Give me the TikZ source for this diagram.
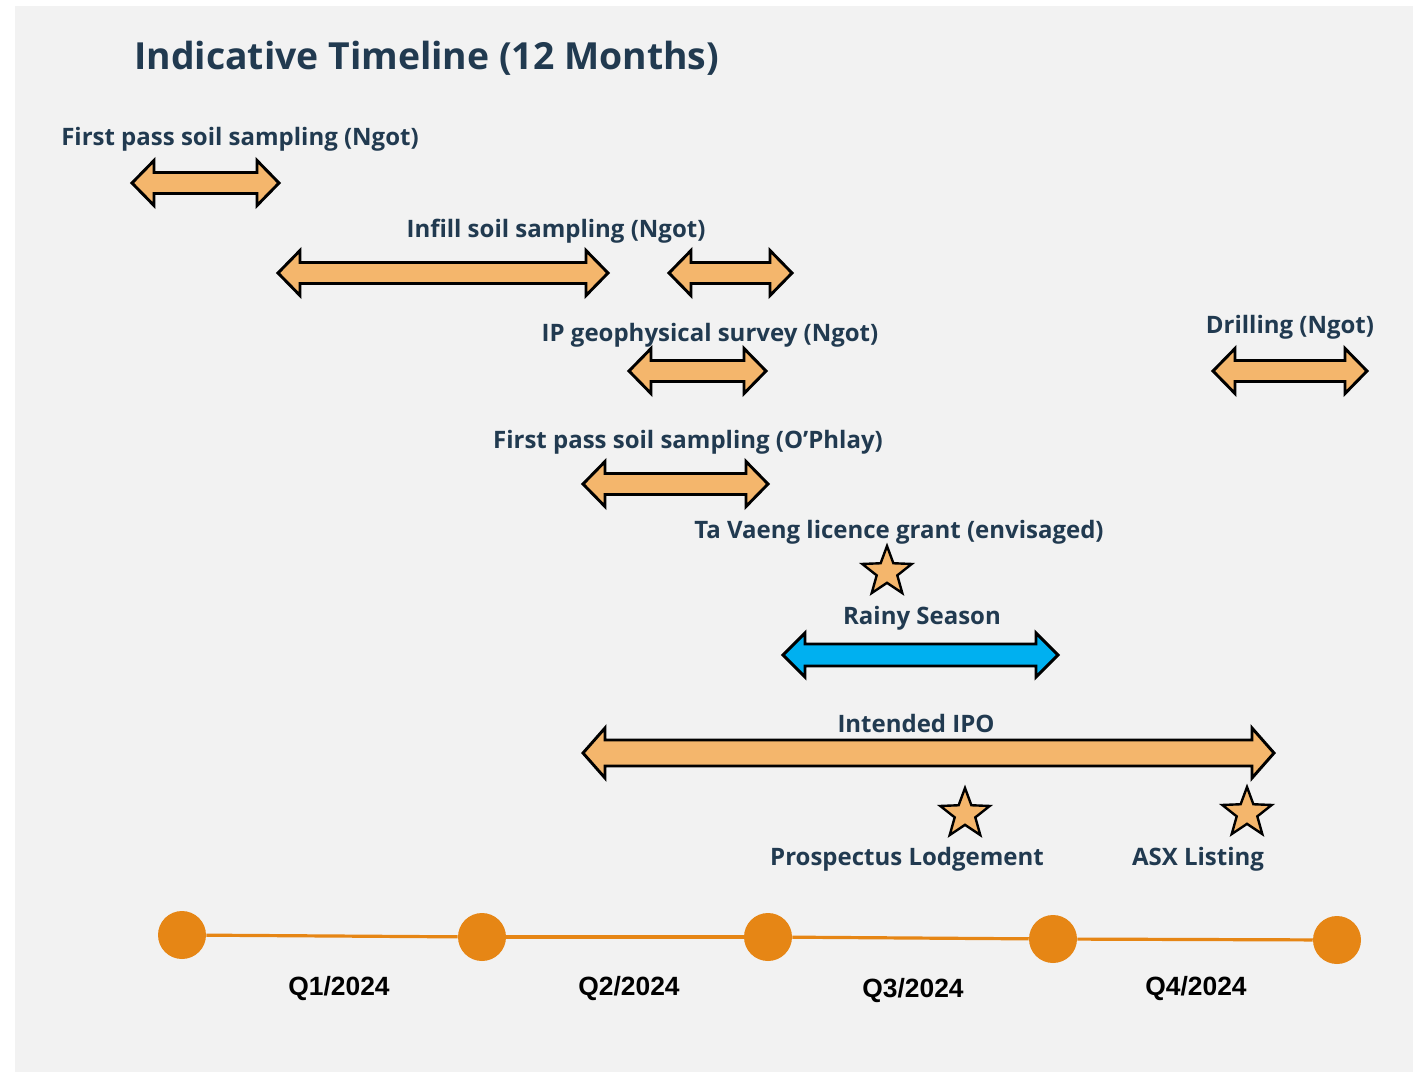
\documentclass[tikz,border=0pt]{standalone}
\usepackage{fontspec}
\setmainfont{Open Sans}
\newfontfamily\quarterfont{Liberation Sans}
\usepackage{tikz}
\usetikzlibrary{shapes.geometric}
\definecolor{Ink}{HTML}{213A50}
\definecolor{Paper}{HTML}{F2F2F2}
\definecolor{Peach}{HTML}{F4B66C}
\definecolor{Sky}{HTML}{00B0F0}
\definecolor{Pumpkin}{HTML}{E68615}

% double-headed span bar: style, x from, x to, y, head half height, body half height
\newcommand{\spanarrow}[6]{%
  \draw[#1] (#2,#4) -- ++(22,-#5) -- ++(0,#5-#6) -- (#3-22,#4-#6) -- ++(0,#6-#5)
    -- (#3,#4) -- ++(-22,#5) -- ++(0,#6-#5) -- (#2+22,#4+#6) -- ++(0,#5-#6) -- cycle;}

\begin{document}
\begin{tikzpicture}[
  x=0.75pt, y=-0.75pt,
  task/.style={font=\fontsize{18}{20}\selectfont\bfseries, text=Ink, inner sep=0pt, yshift=-1.5pt},
  heading/.style={font=\fontsize{28}{32}\selectfont\bfseries, text=Ink, inner sep=0pt, anchor=west},
  quarter/.style={font=\quarterfont\fontsize{19.8}{22}\selectfont\bfseries, text=black, inner sep=0pt, yshift=-1.5pt},
  bar/.style={draw=black, line width=2.2pt, fill=Peach, line join=miter},
  rain/.style={bar, fill=Sky},
  milestone/.style={star, star points=5, star point ratio=2.4, minimum size=39pt, inner sep=0pt, draw=black, line width=1.8pt, fill=Peach},
  dot/.style={circle, fill=Pumpkin, minimum size=36pt, inner sep=0pt},
  track/.style={draw=Pumpkin, line width=2.4pt}
]
\useasboundingbox (0,0) rectangle (1421,1072);
\fill[Paper] (15,6) rectangle (1413,1072);

\node[heading] (title) at (134,58) {Indicative Timeline (12 Months)};

% activities
\node[task] (soilngot) at (240,137) {First pass soil sampling (Ngot)};
\spanarrow{bar}{132}{279}{183}{22.5}{10.5}

\node[task] (infill) at (556,229) {Infill soil sampling (Ngot)};
\spanarrow{bar}{278}{608}{273}{22.5}{10.5}
\spanarrow{bar}{669}{792}{273}{22.5}{10.5}

\node[task] (ipsurvey) at (710,333) {IP geophysical survey (Ngot)};
\spanarrow{bar}{629}{766}{371}{22.5}{10.5}

\node[task] (drilling) at (1290,325) {Drilling (Ngot)};
\spanarrow{bar}{1213}{1367}{371}{22.5}{10.5}

\node[task] (soilophlay) at (688,440) {First pass soil sampling (O'Phlay)};
\spanarrow{bar}{583}{768}{484}{22.5}{10.5}

\node[task] (licence) at (899,530) {Ta Vaeng licence grant (envisaged)};
\node[milestone] (licencestar) at (887,572) {};

\node[task] (rainy) at (922,616) {Rainy Season};
\spanarrow{rain}{783}{1058}{655}{22}{11}

\node[task] (ipo) at (916,721) {Intended IPO};
\spanarrow{bar}{583}{1274}{753}{25}{13}

\node[milestone] (lodgestar) at (965,814) {};
\node[task] (lodgement) at (907,857) {Prospectus Lodgement};
\node[milestone] (asxstar) at (1247,813) {};
\node[task] (asx) at (1198,857) {ASX Listing};

% quarters
\node[dot] (d0) at (182,935) {};
\node[dot] (d1) at (482,937) {};
\node[dot] (d2) at (768,937) {};
\node[dot] (d3) at (1053,939) {};
\node[dot] (d4) at (1337,940) {};
\foreach \a/\b in {d0/d1, d1/d2, d2/d3, d3/d4}
  \draw[track] (\a) -- (\b);

\node[quarter] (q1) at (339,987) {Q1/2024};
\node[quarter] (q2) at (629,987) {Q2/2024};
\node[quarter] (q3) at (913,989) {Q3/2024};
\node[quarter] (q4) at (1196,987) {Q4/2024};
\end{tikzpicture}
\end{document}
